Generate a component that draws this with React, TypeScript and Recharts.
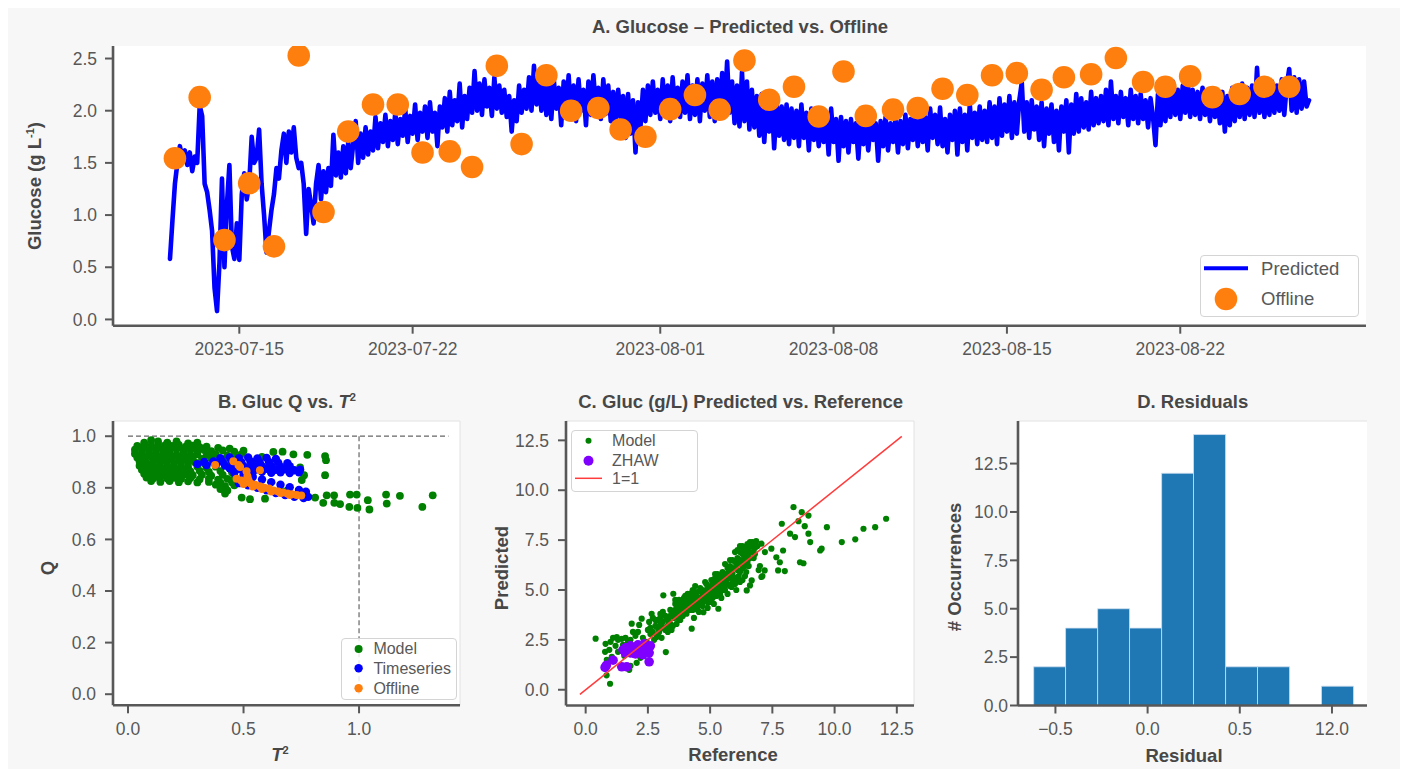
import React from "react";
import {
  ComposedChart,
  Line,
  Scatter,
  XAxis,
  YAxis,
  CartesianGrid,
  ReferenceLine,
  ReferenceArea,
  Legend,
} from "recharts";

const FONT = '"Liberation Sans", Arial, Helvetica, sans-serif';
const INK = "#585858";
const DARK = "#474747";

// ---------- A. Glucose time series (x = days after 2023-07-15) ----------
const predStartDay = -2.8; // first online reading
const predStepDay = 0.1; // online sampling interval (days)
const predictedGlucose = [
  0.58, 0.95, 1.3, 1.5, 1.66, 1.55, 1.62, 1.48, 1.6, 1.42, 1.56, 1.5, 2.05, 1.95, 1.3,
  1.22, 1.05, 0.85, 0.3, 0.08, 0.55, 1.35, 0.5, 1.1, 1.48, 0.7, 0.58, 0.92, 0.57, 1.2,
  1.4, 1.15, 1.3, 1.75, 1.5, 1.55, 1.82, 1.3, 1.0, 0.64, 0.85, 1.05, 1.2, 1.45, 1.35,
  1.62, 1.78, 1.5, 1.8, 1.6, 1.84, 1.55, 1.45, 1.5, 1.3, 0.82, 1.25, 1.1, 0.92, 1.3,
  1.48, 1.15, 1.42, 1.22, 1.45, 1.28, 1.77, 1.38, 1.6, 1.36, 1.66, 1.4, 1.7, 1.45, 1.68,
  1.9, 1.5, 1.78, 1.55, 1.84, 1.58, 1.8, 1.62, 1.94, 1.64, 1.88, 1.7, 1.96, 1.66, 1.9,
  1.72, 1.98, 1.68, 1.92, 1.76, 2.02, 1.7, 1.95, 1.78, 2.06, 1.72, 1.98, 1.8, 2.04, 1.74,
  2.08, 1.8, 1.98, 1.66, 2.04, 1.84, 2.12, 1.8, 2.18, 1.86, 2.1, 1.9, 2.26, 1.84, 2.14,
  1.92, 2.22, 1.98, 2.38, 2.0, 2.26, 1.96, 2.3, 2.04, 2.22, 1.95, 2.32, 2.02, 2.24, 1.98,
  2.2, 1.94, 2.14, 1.8, 2.1, 1.9, 2.24, 1.98, 2.2, 2.02, 2.32, 2.0, 2.43, 2.06, 2.3,
  2.0, 2.36, 1.96, 2.26, 1.92, 2.3, 2.02, 2.22, 1.86, 2.28, 1.98, 2.34, 1.94, 2.24, 1.9,
  2.3, 2.0, 2.2, 1.86, 2.28, 1.96, 2.34, 2.02, 2.22, 1.92, 2.3, 1.97, 2.24, 1.9, 2.18,
  1.88, 2.2, 1.94, 2.14, 1.74, 2.16, 1.78, 2.1, 1.6, 2.08, 1.84, 2.2, 1.9, 2.24, 1.96,
  2.28, 1.98, 2.2, 1.92, 2.3, 1.96, 2.24, 1.9, 2.32, 2.0, 2.22, 1.94, 2.28, 1.98, 2.34,
  1.92, 2.24, 1.96, 2.3, 1.9, 2.26, 2.0, 2.34, 1.94, 2.28, 1.9, 2.3, 1.96, 2.36, 2.0,
  2.47, 1.98, 2.28, 1.88, 2.24, 1.85, 2.37, 1.9, 2.28, 1.82, 2.2, 1.84, 2.14, 1.76, 2.16,
  1.7, 2.1, 1.8, 2.12, 1.64, 2.06, 1.76, 2.04, 1.72, 2.06, 1.68, 2.02, 1.74, 2.0, 1.66,
  2.06, 1.74, 1.98, 1.62, 2.02, 1.72, 1.96, 1.66, 1.98, 1.7, 1.94, 1.58, 2.02, 1.7, 1.92,
  1.52, 1.94, 1.66, 1.9, 1.6, 1.92, 1.7, 1.88, 1.54, 1.93, 1.68, 1.86, 1.62, 1.9, 1.72,
  1.88, 1.52, 1.9, 1.66, 1.94, 1.62, 1.88, 1.7, 1.92, 1.6, 1.9, 1.68, 1.96, 1.64, 1.92,
  1.72, 1.98, 1.66, 2.0, 1.7, 1.94, 1.62, 2.02, 1.74, 1.96, 1.68, 2.03, 1.66, 1.92, 1.6,
  1.96, 1.72, 2.0, 1.58, 2.02, 1.7, 1.96, 1.62, 2.06, 1.74, 1.98, 1.68, 2.04, 1.72, 2.0,
  1.7, 2.08, 1.74, 2.04, 1.68, 2.12, 1.76, 2.06, 1.8, 2.14, 1.74, 2.08, 1.78, 2.1, 2.27,
  1.8, 2.08, 1.74, 2.1, 1.82, 2.04, 1.72, 2.08, 1.66, 2.02, 1.78, 2.06, 1.7, 2.0, 1.62,
  2.04, 1.8, 2.1, 1.6, 2.06, 1.78, 2.16, 1.8, 2.12, 1.84, 2.08, 1.82, 2.18, 1.86, 2.12,
  1.88, 2.14, 1.9, 2.2, 1.86, 2.28, 1.92, 2.14, 1.88, 2.18, 1.94, 2.12, 1.86, 2.2, 1.92,
  2.14, 1.88, 2.16, 1.92, 2.1, 1.84, 2.12, 1.94, 1.67, 2.16, 1.86, 2.2, 1.9, 2.22, 1.94,
  2.28, 1.96, 2.2, 1.92, 2.24, 1.98, 2.3, 1.94, 2.2, 1.96, 2.18, 1.92, 2.22, 1.96, 2.16,
  1.9, 2.2, 1.94, 2.16, 1.88, 2.18, 1.8, 2.14, 1.86, 2.22, 1.9, 2.2, 1.94, 2.26, 1.92,
  2.22, 1.96, 2.24, 1.94, 2.41, 1.98, 2.26, 1.94, 2.22, 1.96, 2.28, 1.98, 2.24, 2.0, 2.3,
  1.96, 2.24, 2.4, 2.0, 2.32, 1.98, 2.3, 2.02, 2.28, 2.04, 2.1,
];

const offlineDays = [
  -2.6, -1.6, -0.6, 0.4, 1.4, 2.4, 3.4, 4.4, 5.4, 6.4,
  7.4, 8.5, 9.4, 10.4, 11.4, 12.4, 13.4, 14.5, 15.4, 16.4,
  17.4, 18.4, 19.4, 20.4, 21.4, 22.4, 23.4, 24.4, 25.3, 26.4,
  27.4, 28.4, 29.4, 30.4, 31.4, 32.4, 33.3, 34.4, 35.4, 36.5,
  37.4, 38.4, 39.3, 40.4, 41.4, 42.4,
];
const offlineGlucose = [
  1.545, 2.13, 0.76, 1.305, 0.7, 2.53, 1.03, 1.8, 2.06, 2.06,
  1.6, 1.61, 1.46, 2.43, 1.68, 2.34, 2.0, 2.025, 1.82, 1.75,
  2.015, 2.15, 2.01, 2.48, 2.105, 2.23, 1.945, 2.376, 1.95, 2.01,
  2.025, 2.21, 2.15, 2.34, 2.36, 2.2, 2.32, 2.35, 2.505, 2.275,
  2.23, 2.33, 2.13, 2.16, 2.23, 2.23,
];

const dateTickDays = [0, 7, 17, 24, 31, 38];
const dateTickLabels = ["2023-07-15", "2023-07-22", "2023-08-01", "2023-08-08", "2023-08-15", "2023-08-22"];
const glucoseTicks = [0, 0.5, 1, 1.5, 2, 2.5];

// ---------- B. Q vs T² ----------
const qtModel: [number, number][] = [
  [0.07, 0.975], [0.1, 0.985], [0.13, 0.98], [0.17, 0.975], [0.21, 0.98], [0.26, 0.972], [0.3, 0.975],
  [0.04, 0.962], [0.07, 0.966], [0.1, 0.962], [0.13, 0.968], [0.16, 0.964], [0.19, 0.962], [0.22, 0.966],
  [0.25, 0.96], [0.28, 0.963], [0.31, 0.958], [0.34, 0.96], [0.39, 0.955], [0.44, 0.952],
  [0.03, 0.948], [0.06, 0.95], [0.09, 0.946], [0.12, 0.95], [0.15, 0.948], [0.18, 0.945], [0.21, 0.95],
  [0.24, 0.946], [0.27, 0.948], [0.3, 0.944], [0.33, 0.947], [0.36, 0.942], [0.41, 0.945], [0.46, 0.94], [0.5, 0.944],
  [0.03, 0.932], [0.06, 0.935], [0.09, 0.93], [0.12, 0.934], [0.15, 0.93], [0.18, 0.933], [0.21, 0.929],
  [0.24, 0.932], [0.27, 0.928], [0.3, 0.93], [0.34, 0.926], [0.38, 0.93], [0.43, 0.925], [0.49, 0.93],
  [0.04, 0.918], [0.07, 0.915], [0.1, 0.92], [0.13, 0.916], [0.16, 0.918], [0.19, 0.914], [0.22, 0.917],
  [0.25, 0.912], [0.28, 0.916], [0.32, 0.912], [0.36, 0.915], [0.4, 0.91], [0.46, 0.912],
  [0.05, 0.902], [0.08, 0.898], [0.11, 0.903], [0.14, 0.899], [0.17, 0.902], [0.2, 0.897], [0.23, 0.9],
  [0.26, 0.896], [0.29, 0.899], [0.33, 0.895], [0.37, 0.898], [0.42, 0.893], [0.48, 0.896],
  [0.05, 0.886], [0.08, 0.883], [0.11, 0.887], [0.14, 0.882], [0.17, 0.885], [0.2, 0.881], [0.23, 0.884],
  [0.26, 0.88], [0.3, 0.883], [0.34, 0.879], [0.38, 0.882], [0.44, 0.878],
  [0.06, 0.87], [0.09, 0.867], [0.12, 0.871], [0.15, 0.866], [0.18, 0.869], [0.21, 0.865], [0.24, 0.868],
  [0.27, 0.864], [0.31, 0.866], [0.35, 0.862], [0.4, 0.865], [0.45, 0.86], [0.5, 0.863],
  [0.07, 0.855], [0.1, 0.852], [0.13, 0.856], [0.16, 0.851], [0.19, 0.854], [0.22, 0.85], [0.25, 0.853],
  [0.28, 0.849], [0.32, 0.851], [0.36, 0.847], [0.41, 0.85], [0.46, 0.846],
  [0.08, 0.84], [0.11, 0.837], [0.14, 0.841], [0.17, 0.836], [0.2, 0.839], [0.23, 0.835], [0.27, 0.838],
  [0.31, 0.833], [0.35, 0.836], [0.39, 0.832], [0.43, 0.835], [0.48, 0.83],
  [0.1, 0.826], [0.14, 0.823], [0.18, 0.826], [0.22, 0.822], [0.26, 0.825], [0.3, 0.821], [0.35, 0.823],
  [0.4, 0.82], [0.45, 0.822],
  [0.38, 0.812], [0.42, 0.806], [0.46, 0.81], [0.4, 0.795], [0.43, 0.79], [0.42, 0.778],
  [0.629, 0.939], [0.669, 0.94], [0.716, 0.93], [0.776, 0.928], [0.853, 0.923], [0.857, 0.907], [0.853, 0.849],
  [0.745, 0.879], [0.762, 0.849], [0.752, 0.83], [0.492, 0.762], [0.528, 0.756], [0.593, 0.758],
  [0.81, 0.762], [0.845, 0.742], [0.86, 0.771], [0.892, 0.771], [0.893, 0.742], [0.918, 0.737], [0.958, 0.726],
  [0.961, 0.774], [0.99, 0.774], [0.993, 0.722], [1.038, 0.752], [1.045, 0.716], [1.117, 0.774], [1.12, 0.739],
  [1.177, 0.769], [1.274, 0.726], [1.319, 0.771], [0.55, 0.9], [0.58, 0.92], [0.62, 0.86], [0.66, 0.79], [0.69, 0.79],
];
const qtTimeseries: [number, number][] = [
  [0.4, 0.915], [0.44, 0.918], [0.48, 0.915], [0.52, 0.918], [0.56, 0.914], [0.6, 0.916], [0.64, 0.912],
  [0.33, 0.9], [0.37, 0.902], [0.41, 0.9], [0.45, 0.903], [0.49, 0.9], [0.53, 0.902], [0.57, 0.898],
  [0.61, 0.9], [0.65, 0.897], [0.69, 0.895],
  [0.3, 0.892], [0.34, 0.888], [0.38, 0.89], [0.42, 0.886], [0.46, 0.888], [0.5, 0.885], [0.54, 0.888],
  [0.58, 0.884], [0.62, 0.886], [0.66, 0.882], [0.7, 0.884],
  [0.44, 0.876], [0.48, 0.874], [0.52, 0.876], [0.56, 0.872], [0.6, 0.874], [0.64, 0.87], [0.68, 0.872],
  [0.72, 0.868], [0.745, 0.87],
  [0.5, 0.862], [0.54, 0.86], [0.58, 0.862], [0.62, 0.858], [0.66, 0.86], [0.7, 0.857], [0.74, 0.86],
  [0.46, 0.858], [0.5, 0.85], [0.54, 0.842], [0.58, 0.832], [0.62, 0.822], [0.66, 0.812], [0.7, 0.802],
  [0.74, 0.792], [0.77, 0.785],
  [0.48, 0.818], [0.52, 0.81], [0.56, 0.8], [0.6, 0.79], [0.64, 0.78], [0.68, 0.772], [0.72, 0.765],
  [0.76, 0.76], [0.78, 0.765],
];
const qtOffline: [number, number][] = [
  [0.377, 0.888], [0.456, 0.903], [0.478, 0.888], [0.513, 0.864], [0.517, 0.845], [0.571, 0.868],
  [0.485, 0.881], [0.521, 0.83],
  [0.47, 0.835], [0.49, 0.828], [0.51, 0.822], [0.53, 0.818], [0.55, 0.812], [0.57, 0.806], [0.59, 0.8],
  [0.61, 0.797], [0.63, 0.79], [0.65, 0.786], [0.67, 0.782], [0.69, 0.778], [0.71, 0.775], [0.73, 0.772],
  [0.75, 0.77], [0.5, 0.815], [0.54, 0.805], [0.58, 0.795], [0.62, 0.786], [0.66, 0.78], [0.7, 0.772],
];
const qLimit = 1.0;
const t2Limit = 1.0;
const t2LimitEnd = 1.387;
const qTicks = [0, 0.2, 0.4, 0.6, 0.8, 1];
const t2Ticks = [0, 0.5, 1];

// ---------- C. Predicted vs reference ----------
const pvModel: [number, number][] = [
  [0.4, 2.56], [0.78, 1.9], [0.8, 2.3], [0.84, 0.72], [0.85, 1.5],
  [0.98, 0.3], [1.0, 2.4], [1.05, 1.65], [1.1, 2.6], [0.95, 2.0],
  [1.25, 2.64], [1.2, 2.2], [1.3, 2.5], [1.3, 1.9],
  [1.45, 2.55], [1.5, 2.25], [1.55, 1.7], [1.6, 2.6], [1.5, 2.0],
  [1.7, 2.4], [1.75, 1.0], [1.8, 1.2], [1.8, 2.5], [1.85, 3.31], [1.9, 2.9],
  [2.0, 2.7], [2.05, 1.35], [2.1, 2.9], [2.15, 3.25], [2.2, 1.6], [2.25, 3.56], [2.3, 2.6],
  [2.4, 1.8], [2.45, 2.4], [2.5, 3.0], [2.55, 3.4], [2.6, 2.2], [2.65, 3.81], [2.7, 3.6], [2.6, 2.8], [2.75, 2.5],
  [2.8, 3.2], [2.85, 2.64], [2.9, 3.5], [2.95, 2.9], [3.0, 3.8], [3.0, 3.3], [3.05, 2.6], [3.1, 3.9],
  [3.12, 4.73], [3.15, 3.1], [3.22, 1.89], [3.25, 3.6], [3.3, 2.9],
  [3.35, 3.4], [3.4, 4.0], [3.45, 3.0], [3.52, 4.81], [3.55, 3.6], [3.6, 4.3], [3.65, 3.3], [3.7, 3.9],
  [3.75, 4.5], [3.8, 3.5], [3.85, 4.1],
  [3.9, 3.7], [3.95, 4.6], [4.0, 4.2], [4.05, 3.81], [4.1, 4.8], [4.15, 4.0], [4.2, 4.5], [4.26, 3.06],
  [4.3, 4.3], [4.35, 3.6], [4.4, 4.9], [4.45, 4.1],
  [4.5, 4.6], [4.55, 3.9], [4.6, 5.1], [4.65, 4.3], [4.7, 4.8], [4.73, 3.89], [4.8, 4.5], [4.85, 5.3],
  [4.9, 4.1], [4.95, 4.9],
  [5.0, 4.4], [5.05, 5.5], [5.1, 5.0], [5.15, 4.3], [5.2, 5.3], [5.25, 4.7], [5.3, 5.8], [5.33, 4.06],
  [5.4, 5.1], [5.45, 4.6], [5.5, 5.6], [5.55, 5.0],
  [5.6, 6.3], [5.65, 5.4], [5.7, 4.8], [5.75, 5.9], [5.8, 5.2], [5.86, 5.15], [5.9, 6.5], [5.95, 5.6],
  [6.0, 6.9], [6.0, 6.1], [6.05, 5.0], [6.1, 6.6], [6.15, 5.7], [6.2, 7.2],
  [6.25, 6.3], [6.3, 5.5], [6.35, 7.0], [6.4, 6.6], [6.45, 5.9], [6.47, 4.98], [6.5, 7.3], [6.55, 6.2],
  [6.6, 5.23], [6.6, 6.9], [6.67, 5.48], [6.7, 7.4], [6.75, 6.6], [6.8, 7.1], [6.85, 7.45],
  [4.0, 4.5], [4.1, 4.4], [4.2, 4.0], [4.3, 4.7], [4.4, 4.4], [4.5, 4.2], [4.6, 4.6], [4.7, 4.4],
  [4.8, 4.9], [4.9, 4.6], [5.0, 4.8], [5.1, 4.6], [5.2, 4.9], [5.3, 5.2], [5.4, 4.8], [5.5, 5.2],
  [5.6, 5.0], [5.7, 5.6], [5.8, 5.8], [5.9, 5.4], [6.0, 5.6], [6.1, 6.0], [6.2, 6.5], [6.3, 6.8],
  [6.4, 6.2], [6.5, 6.7], [6.6, 7.2], [5.6, 5.8], [5.5, 5.4], [5.2, 5.6], [5.8, 6.2], [6.1, 7.0],
  [6.3, 7.2], [3.6, 3.8], [3.3, 3.2], [3.0, 3.6], [2.9, 3.1], [3.7, 4.2], [3.9, 4.1], [4.25, 4.85], [3.4, 3.7],
  [2.6, 3.1], [2.7, 2.9], [2.8, 3.5], [2.9, 2.7], [3.0, 3.1], [3.1, 3.4], [3.2, 3.7], [3.2, 3.0],
  [3.3, 3.5], [3.4, 3.3], [3.5, 3.8], [3.5, 3.2], [3.6, 4.0], [3.7, 3.6], [3.8, 4.3], [3.8, 3.8],
  [3.9, 4.4], [4.0, 3.9], [4.0, 4.7], [4.1, 4.1], [4.2, 4.7], [4.3, 4.0], [4.3, 5.0], [4.4, 4.6],
  [4.5, 4.9], [4.5, 4.0], [4.6, 4.4], [4.7, 5.0], [4.7, 4.2], [4.8, 4.7], [4.9, 5.1], [4.9, 4.4],
  [5.0, 5.2], [5.0, 4.6], [5.1, 5.4], [5.1, 4.8], [5.2, 5.1], [5.3, 4.9], [5.3, 5.5], [5.4, 5.4],
  [5.5, 5.0], [5.5, 5.9], [5.6, 5.5], [5.7, 6.1], [5.7, 5.3], [5.8, 6.5], [5.8, 5.6], [5.9, 6.1],
  [5.9, 5.8], [6.0, 6.4], [6.0, 5.3], [6.1, 6.3], [6.1, 5.5], [6.2, 6.9], [6.2, 5.9], [6.3, 6.5],
  [6.3, 6.1], [6.4, 7.1], [6.4, 6.9], [6.5, 6.4], [6.5, 7.0], [6.6, 6.6], [6.6, 7.4], [6.7, 6.9],
  [6.7, 7.2], [6.8, 6.8], [6.9, 7.2], [6.4, 5.7], [6.2, 5.4], [5.6, 5.2], [5.4, 5.7], [5.2, 5.8],
  [4.8, 5.4], [4.4, 5.2], [4.2, 4.3], [3.6, 4.5],
  [7.06, 7.32], [7.06, 5.65], [7.19, 5.98], [7.46, 7.07], [7.66, 6.64], [7.73, 5.98], [7.8, 6.39],
  [7.88, 8.32], [7.93, 6.98], [8.0, 5.95], [8.21, 7.82], [8.35, 9.15], [8.41, 7.65], [8.61, 6.39],
  [8.68, 8.9], [8.75, 6.34], [8.95, 8.73], [8.95, 7.82], [9.02, 7.4], [8.8, 8.2], [8.55, 8.45],
  [9.42, 6.98], [9.48, 7.07], [9.69, 8.15], [10.29, 7.4], [10.83, 7.54], [11.16, 8.07], [11.63, 8.15],
  [12.07, 8.57], [7.0, 6.2], [7.2, 6.9], [6.95, 6.0], [7.1, 5.7],
];
const pvZhaw: [number, number][] = [
  [0.78, 1.12], [0.83, 1.22], [1.1, 1.48], [1.45, 1.15], [1.65, 1.15], [1.5, 2.0], [1.6, 2.1],
  [1.7, 1.95], [1.8, 2.2], [1.9, 1.85], [2.0, 2.05], [2.1, 1.9], [2.2, 2.2], [2.3, 2.0], [2.4, 2.25],
  [2.5, 2.1], [2.55, 1.85], [2.6, 2.2], [2.55, 1.4], [2.3, 1.75], [2.0, 1.8], [1.8, 1.85], [2.1, 2.25],
  [2.45, 1.95], [1.6, 1.85], [2.35, 2.3],
];
const identityRange = [-0.23, 12.7];
const pvTicks = [0, 2.5, 5, 7.5, 10, 12.5];

// ---------- D. Residual histogram ----------
const residualBinEdges = [-0.618, -0.445, -0.271, -0.098, 0.076, 0.249, 0.423, 0.596, 0.77, 0.943, 1.117];
const residualCounts = [2, 4, 5, 4, 12, 14, 2, 2, 0, 1];
const residualTicks = [-0.5, 0, 0.5, 1];
const residualTickLabels = ["\u22120.5", "0.0", "0.5", "12.0"];
const occurrenceTicks = [0, 2.5, 5, 7.5, 10, 12.5];

// ---------- layout helpers ----------
type Plot = { left: number; top: number; right: number; bottom: number };
const YW = 70;
const XH = 44;
const PAD_T = 10;
const PAD_R = 14;
const MARGIN = { top: PAD_T, right: PAD_R, bottom: 0, left: 0 };

const frameOf = (p: Plot) => ({
  left: p.left - YW,
  top: p.top - PAD_T,
  width: p.right - p.left + YW + PAD_R,
  height: p.bottom - p.top + PAD_T + XH,
});

const plotA: Plot = { left: 105, top: 38, right: 1358, bottom: 317.7 };
const plotB: Plot = { left: 105, top: 412.7, right: 452, bottom: 697 };
const plotC: Plot = { left: 558, top: 412.5, right: 906, bottom: 697 };
const plotD: Plot = { left: 1009.7, top: 412.5, right: 1358.7, bottom: 697 };

const tickFont = { fill: INK, fontSize: 17.5 };
const tickLine = { stroke: INK, strokeWidth: 2 };
const axisLine = { stroke: INK, strokeWidth: 2.6 };
const fmt1 = (v: number) => v.toFixed(1);

const dot = (r: number, color: string) => (props: any) =>
  <circle cx={props.cx} cy={props.cy} r={r} fill={color} />;

const toXY = (pts: [number, number][]) => pts.map(([x, y]) => ({ x, y }));

const Txt = ({ x, y, rotate, size = 18.5, children }: any) => (
  <div
    style={{
      position: "absolute",
      left: x,
      top: y,
      transform: `translate(-50%, -50%)${rotate ? " rotate(-90deg)" : ""}`,
      fontWeight: "bold",
      fontSize: size,
      color: DARK,
      whiteSpace: "nowrap",
      lineHeight: 1,
    }}
  >
    {children}
  </div>
);

type Key = { label: string; y: number; mark: "line" | "dot"; color: string; size: number; width?: number };
const LegendBox = ({ w, h, markX, textX, fontSize, keys }: { w: number; h: number; markX: number; textX: number; fontSize: number; keys: Key[] }) => (
  <div
    style={{
      position: "relative",
      width: w,
      height: h,
      boxSizing: "border-box",
      border: "1.6px solid #d4d4d4",
      borderRadius: 4,
      background: "rgba(255,255,255,0.85)",
      fontFamily: FONT,
      fontSize,
      color: INK,
    }}
  >
    <svg width={w} height={h} style={{ position: "absolute", left: -1.6, top: -1.6 }}>
      {keys.map((k) =>
        k.mark === "line" ? (
          <line key={k.label} x1={markX - k.size} x2={markX + k.size} y1={k.y} y2={k.y} stroke={k.color} strokeWidth={k.width} />
        ) : (
          <circle key={k.label} cx={markX} cy={k.y} r={k.size} fill={k.color} />
        )
      )}
    </svg>
    {keys.map((k) => (
      <span
        key={k.label}
        style={{ position: "absolute", left: textX - 1.6, top: k.y - 1.6, transform: "translateY(-50%)", lineHeight: 1, whiteSpace: "nowrap" }}
      >
        {k.label}
      </span>
    ))}
  </div>
);

const legendAt = (box: { left: number; top: number; w: number; h: number }, p: Plot) => {
  const f = frameOf(p);
  return { left: box.left - f.left, top: box.top - f.top, width: box.w, height: box.h, margin: 0, padding: 0 };
};

export default function App() {
  const predicted = predictedGlucose.map((y, i) => ({ x: predStartDay + i * predStepDay, y }));
  const offline = offlineDays.map((x, i) => ({ x, y: offlineGlucose[i] }));
  const fA = frameOf(plotA);
  const fB = frameOf(plotB);
  const fC = frameOf(plotC);
  const fD = frameOf(plotD);

  const legA = { left: 1192, top: 247, w: 159, h: 62 };
  const legB = { left: 332.7, top: 630, w: 116.3, h: 62 };
  const legC = { left: 563, top: 422, w: 127, h: 62 };

  return (
    <div style={{ position: "relative", width: 1392, height: 761, background: "#f7f7f7", fontFamily: FONT }}>
      {/* A. time series */}
      <div style={{ position: "absolute", left: fA.left, top: fA.top }}>
        <ComposedChart width={fA.width} height={fA.height} margin={MARGIN}>
          <CartesianGrid fill="#ffffff" horizontal={false} vertical={false} />
          <XAxis
            type="number" dataKey="x" domain={[-5.1, 45.5]} allowDataOverflow ticks={dateTickDays} interval={0}
            tickFormatter={(v: number) => dateTickLabels[dateTickDays.indexOf(v)]}
            tick={tickFont} tickLine={tickLine} axisLine={axisLine} tickSize={8} tickMargin={9} height={XH}
          />
          <YAxis
            type="number" dataKey="y" domain={[-0.06, 2.62]} allowDataOverflow ticks={glucoseTicks} interval={0}
            tickFormatter={fmt1} tick={tickFont} tickLine={tickLine} axisLine={axisLine} tickSize={8} tickMargin={8} width={YW}
          />
          <Line data={predicted} dataKey="y" stroke="#0000ff" strokeWidth={4.6} dot={false} strokeLinejoin="round" strokeLinecap="round" isAnimationActive={false} name="Predicted" />
          <Scatter data={offline} fill="#ff7f0e" shape={dot(11.3, "#ff7f0e")} isAnimationActive={false} name="Offline" />
          <Legend
            layout="vertical" align="center" verticalAlign="middle" wrapperStyle={legendAt(legA, plotA)}
            content={() => (
              <LegendBox
                w={legA.w} h={legA.h} markX={27} textX={61.7} fontSize={18.5}
                keys={[
                  { label: "Predicted", y: 14.3, mark: "line", color: "#0000ff", size: 22, width: 4 },
                  { label: "Offline", y: 45, mark: "dot", color: "#ff7f0e", size: 11.3 },
                ]}
              />
            )}
          />
        </ComposedChart>
      </div>

      {/* B. Q vs T2 */}
      <div style={{ position: "absolute", left: fB.left, top: fB.top }}>
        <ComposedChart width={fB.width} height={fB.height} margin={MARGIN}>
          <CartesianGrid fill="#ffffff" horizontal={false} vertical={false} />
          <XAxis
            type="number" dataKey="x" domain={[-0.065, 1.437]} allowDataOverflow ticks={t2Ticks} interval={0}
            tickFormatter={fmt1} tick={tickFont} tickLine={tickLine} axisLine={axisLine} tickSize={8} tickMargin={9} height={XH}
          />
          <YAxis
            type="number" dataKey="y" domain={[-0.043, 1.059]} allowDataOverflow ticks={qTicks} interval={0}
            tickFormatter={fmt1} tick={tickFont} tickLine={tickLine} axisLine={axisLine} tickSize={8} tickMargin={9} width={YW}
          />
          <ReferenceLine y={1.059} stroke="#e2e2e2" strokeWidth={1} ifOverflow="visible" />
          <ReferenceLine x={1.437} stroke="#e2e2e2" strokeWidth={1} ifOverflow="visible" />
          <ReferenceLine segment={[{ x: 0, y: qLimit }, { x: t2LimitEnd, y: qLimit }]} stroke="#666" strokeWidth={1.2} strokeDasharray="5 3" ifOverflow="visible" />
          <ReferenceLine segment={[{ x: t2Limit, y: qLimit }, { x: t2Limit, y: 0 }]} stroke="#666" strokeWidth={1.2} strokeDasharray="5 3" ifOverflow="visible" />
          <Scatter data={toXY(qtModel)} fill="#008000" shape={dot(3.9, "#008000")} isAnimationActive={false} name="Model" />
          <Scatter data={toXY(qtTimeseries)} fill="#0000ff" shape={dot(4.2, "#0000ff")} isAnimationActive={false} name="Timeseries" />
          <Scatter data={toXY(qtOffline)} fill="#ff7f0e" shape={dot(4, "#ff7f0e")} isAnimationActive={false} name="Offline" />
          <Legend
            layout="vertical" align="center" verticalAlign="middle" wrapperStyle={legendAt(legB, plotB)}
            content={() => (
              <LegendBox
                w={legB.w} h={legB.h} markX={18.6} textX={33.3} fontSize={16}
                keys={[
                  { label: "Model", y: 12, mark: "dot", color: "#008000", size: 4 },
                  { label: "Timeseries", y: 31.3, mark: "dot", color: "#0000ff", size: 4.2 },
                  { label: "Offline", y: 51.3, mark: "dot", color: "#ff7f0e", size: 4.2 },
                ]}
              />
            )}
          />
        </ComposedChart>
      </div>

      {/* C. predicted vs reference */}
      <div style={{ position: "absolute", left: fC.left, top: fC.top }}>
        <ComposedChart width={fC.width} height={fC.height} margin={MARGIN}>
          <CartesianGrid fill="#ffffff" horizontal={false} vertical={false} />
          <XAxis
            type="number" dataKey="x" domain={[-0.79, 13.19]} allowDataOverflow ticks={pvTicks} interval={0}
            tickFormatter={fmt1} tick={tickFont} tickLine={tickLine} axisLine={axisLine} tickSize={8} tickMargin={9} height={XH}
          />
          <YAxis
            type="number" dataKey="y" domain={[-0.79, 13.47]} allowDataOverflow ticks={pvTicks} interval={0}
            tickFormatter={fmt1} tick={tickFont} tickLine={tickLine} axisLine={axisLine} tickSize={8} tickMargin={9} width={YW}
          />
          <ReferenceLine y={13.47} stroke="#e2e2e2" strokeWidth={1} ifOverflow="visible" />
          <ReferenceLine x={13.19} stroke="#e2e2e2" strokeWidth={1} ifOverflow="visible" />
          <Scatter data={toXY(pvModel)} fill="#008000" shape={dot(3.1, "#008000")} isAnimationActive={false} name="Model" />
          <Scatter data={toXY(pvZhaw)} fill="#8000ff" shape={dot(4.8, "#8000ff")} isAnimationActive={false} name="ZHAW" />
          <Scatter
            data={identityRange.map((v) => ({ x: v, y: v }))}
            line={{ stroke: "#ff3b3b", strokeWidth: 1.5 }}
            shape={() => <g />}
            isAnimationActive={false}
            name="1=1"
          />
          <Legend
            layout="vertical" align="center" verticalAlign="middle" wrapperStyle={legendAt(legC, plotC)}
            content={() => (
              <LegendBox
                w={legC.w} h={legC.h} markX={18.5} textX={41.7} fontSize={16}
                keys={[
                  { label: "Model", y: 11.7, mark: "dot", color: "#008000", size: 3 },
                  { label: "ZHAW", y: 31.7, mark: "dot", color: "#8000ff", size: 5 },
                  { label: "1=1", y: 49.3, mark: "line", color: "#ff3b3b", size: 13.5, width: 1.5 },
                ]}
              />
            )}
          />
        </ComposedChart>
      </div>

      {/* D. residual histogram */}
      <div style={{ position: "absolute", left: fD.left, top: fD.top }}>
        <ComposedChart width={fD.width} height={fD.height} margin={MARGIN}>
          <CartesianGrid fill="#ffffff" horizontal={false} vertical={false} />
          <XAxis
            type="number" dataKey="x" domain={[-0.703, 1.19]} allowDataOverflow ticks={residualTicks} interval={0}
            tickFormatter={(v: number) => residualTickLabels[residualTicks.indexOf(v)]}
            tick={tickFont} tickLine={tickLine} axisLine={axisLine} tickSize={8} tickMargin={9} height={XH}
          />
          <YAxis
            type="number" dataKey="y" domain={[0, 14.7]} allowDataOverflow ticks={occurrenceTicks} interval={0}
            tickFormatter={fmt1} tick={tickFont} tickLine={tickLine} axisLine={axisLine} tickSize={8} tickMargin={2} width={YW}
          />
          <ReferenceLine y={14.7} stroke="#e2e2e2" strokeWidth={1} ifOverflow="visible" />
          {residualCounts.map((c, i) =>
            c > 0 ? (
              <ReferenceArea
                key={i}
                x1={residualBinEdges[i]}
                x2={residualBinEdges[i + 1]}
                y1={0}
                y2={c}
                fill="#1f77b4"
                fillOpacity={1}
                stroke="#cfe0f0"
                strokeWidth={0.8}
                ifOverflow="visible"
              />
            ) : null
          )}
        </ComposedChart>
      </div>

      {/* titles and axis labels */}
      <Txt x={732} y={19.3}>A. Glucose – Predicted vs. Offline</Txt>
      <Txt x={27} y={178} rotate>
        Glucose (g L<sup style={{ fontSize: "0.6em" }}>-1</sup>)
      </Txt>

      <Txt x={279} y={393.7}>
        B. Gluc Q vs. <i>T</i><sup style={{ fontSize: "0.6em" }}>2</sup>
      </Txt>
      <Txt x={40} y={560} rotate>Q</Txt>
      <Txt x={272} y={747}>
        <i>T</i><sup style={{ fontSize: "0.6em" }}>2</sup>
      </Txt>

      <Txt x={732.7} y={393.7}>C. Gluc (g/L) Predicted vs. Reference</Txt>
      <Txt x={493.7} y={560} rotate>Predicted</Txt>
      <Txt x={725} y={747}>Reference</Txt>

      <Txt x={1184.7} y={393.7}>D. Residuals</Txt>
      <Txt x={947} y={559} rotate># Occurrences</Txt>
      <Txt x={1176} y={748}>Residual</Txt>
    </div>
  );
}
